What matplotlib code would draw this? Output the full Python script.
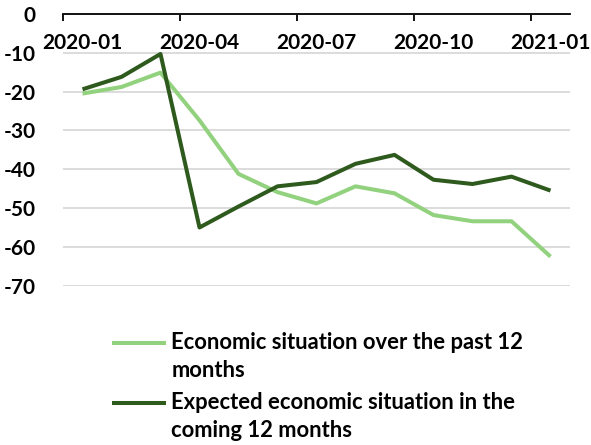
import numpy as np
import matplotlib
matplotlib.use("Agg")
import matplotlib.pyplot as plt
from matplotlib.legend_handler import HandlerLine2D

# monthly balance indicators, Jan 2020 - Jan 2021
months = ["2020-01", "2020-02", "2020-03", "2020-04", "2020-05", "2020-06", "2020-07",
          "2020-08", "2020-09", "2020-10", "2020-11", "2020-12", "2021-01"]
past_12m = [-20.5, -18.8, -15.1, -27.4, -41.2, -45.9, -48.8, -44.4, -46.2, -51.8, -53.4, -53.4, -62.5]
next_12m = [-19.4, -16.2, -10.3, -55.0, -49.6, -44.4, -43.3, -38.6, -36.3, -42.7, -43.8, -41.9, -45.5]

label_past = "Economic situation over the past 12\nmonths"
label_next = "Expected economic situation in the\ncoming 12 months"

light = "#92D27E"
dark = "#2E5A1E"

plt.rcParams["font.family"] = ["Lato", "DejaVu Sans"]
plt.rcParams["font.weight"] = "bold"
plt.rcParams["axes.unicode_minus"] = False

LEG_SPACING = 1.4


class FirstLineHandler(HandlerLine2D):
    # put the legend key next to the first line of a two-line label
    def create_artists(self, legend, orig_handle, xdescent, ydescent, width, height, fontsize, trans):
        arts = super().create_artists(legend, orig_handle, xdescent, ydescent, width, height, fontsize, trans)
        for a in arts:
            a.set_ydata(np.asarray(a.get_ydata()) + 0.5 * 0.92 * LEG_SPACING * fontsize)
        return arts


fig = plt.figure(figsize=(5.91, 4.45), dpi=100)
ax = fig.add_axes([63 / 591, 1 - 285.7 / 445, (570 - 63) / 591, (285.7 - 14) / 445])

x = np.arange(len(months))
ax.plot(x, past_12m, color=light, lw=2.9, label=label_past, solid_capstyle="butt")
ax.plot(x, next_12m, color=dark, lw=2.9, label=label_next, solid_capstyle="butt")

ax.set_xlim(-0.5, len(months) - 0.5)
ax.set_ylim(-70, 0)

# category axis crosses at zero, along the top
for s in ["top", "left", "right"]:
    ax.spines[s].set_visible(False)
ax.spines["bottom"].set_position(("data", 0))
ax.spines["bottom"].set_linewidth(1.3)

ax.set_xticks(x[::3] - 0.5)
ax.set_xticklabels([])
ax.set_xticks(x[::3], minor=True)
ax.set_xticklabels(months[::3], minor=True, fontsize=15, fontweight="bold")
ax.tick_params(axis="x", which="major", direction="out", length=5, width=1.3)
ax.tick_params(axis="x", which="minor", length=0, pad=13.5)

ax.set_yticks(np.arange(0, -71, -10))
ax.tick_params(axis="y", length=0, pad=19.5, labelsize=15)
for t in ax.get_yticklabels():
    t.set_fontweight("bold")
ax.yaxis.grid(True, color="#D9D9D9", lw=1.3)
ax.set_axisbelow(True)

leg = fig.legend(loc="upper left", bbox_to_anchor=(112 / 591, 1 - 332 / 445),
                 frameon=False, fontsize=15.8, handlelength=2.45, handletextpad=0.25,
                 labelspacing=0.5, borderpad=0, borderaxespad=0,
                 handler_map={matplotlib.lines.Line2D: FirstLineHandler()})
for t in leg.get_texts():
    t.set_linespacing(LEG_SPACING)
    t.set_fontweight("bold")

fig.savefig("out.png", dpi=100)
